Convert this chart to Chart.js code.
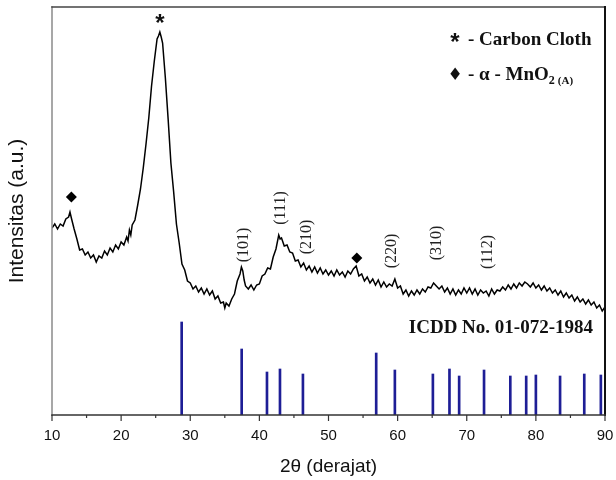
<!DOCTYPE html>
<html>
<head>
<meta charset="utf-8">
<script src="https://cdn.jsdelivr.net/npm/chart.js@4/dist/chart.umd.min.js"></script>
<style>
  html, body { margin: 0; padding: 0; background: #fff; }
  #wrap { width: 616px; height: 480px; }
</style>
</head>
<body>
<div id="wrap"><canvas id="c" width="616" height="480"></canvas></div>
<script>
// XRD scan of the MnO2 / carbon cloth electrode (2θ in degrees, intensity in a.u.)
const twoTheta = [
  10.0, 10.4, 10.8, 11.2, 11.6, 12.0, 12.4, 12.6, 12.8, 13.2, 13.6, 14.0, 14.4, 14.8, 15.2, 15.6,
  16.0, 16.4, 16.8, 17.2, 17.6, 18.0, 18.4, 18.8, 19.2, 19.6, 20.0, 20.4, 20.8, 21.0, 21.2, 21.4,
  21.6, 22.0, 22.4, 22.8, 23.2, 23.6, 24.0, 24.4, 24.8, 25.2, 25.4, 25.6, 25.8, 26.0, 26.4, 26.8,
  27.2, 27.6, 28.0, 28.4, 28.8, 29.2, 29.6, 30.0, 30.4, 30.8, 31.2, 31.6, 32.0, 32.4, 32.8, 33.2,
  33.6, 34.0, 34.4, 34.8, 35.0, 35.2, 35.6, 36.0, 36.4, 36.8, 37.2, 37.4, 37.6, 37.8, 38.0, 38.4,
  38.8, 39.2, 39.6, 40.0, 40.4, 40.8, 41.2, 41.6, 42.0, 42.4, 42.8, 43.0, 43.2, 43.6, 44.0, 44.4,
  44.8, 45.2, 45.6, 46.0, 46.4, 46.8, 47.2, 47.6, 48.0, 48.4, 48.8, 49.2, 49.6, 50.0, 50.4, 50.8,
  51.2, 51.6, 52.0, 52.4, 52.8, 53.2, 53.6, 54.0, 54.4, 54.8, 55.2, 55.6, 56.0, 56.4, 56.8, 57.2,
  57.6, 58.0, 58.4, 58.8, 59.2, 59.6, 60.0, 60.4, 60.8, 61.2, 61.6, 62.0, 62.4, 62.8, 63.2, 63.6,
  64.0, 64.4, 64.8, 65.2, 65.6, 66.0, 66.4, 66.8, 67.2, 67.6, 68.0, 68.4, 68.8, 69.2, 69.6, 70.0,
  70.4, 70.8, 71.2, 71.6, 72.0, 72.4, 72.8, 73.2, 73.6, 74.0, 74.4, 74.8, 75.2, 75.6, 76.0, 76.4,
  76.8, 77.2, 77.6, 78.0, 78.4, 78.8, 79.2, 79.6, 80.0, 80.4, 80.8, 81.2, 81.6, 82.0, 82.4, 82.8,
  83.2, 83.6, 84.0, 84.4, 84.8, 85.2, 85.6, 86.0, 86.4, 86.8, 87.2, 87.6, 88.0, 88.4, 88.8, 89.2,
  89.6, 90.0
];
const intensity = [
  187, 191, 186, 191, 189, 196, 198, 203, 197, 186, 176, 165, 166, 160, 163, 157,
  160, 153, 159, 157, 164, 160, 167, 163, 170, 166, 173, 170, 178, 174, 185, 180,
  190, 195, 210, 226, 247, 271, 297, 329, 354, 376, 379, 383, 378, 372, 337, 296,
  252, 223, 191, 172, 151, 145, 134, 132, 126, 129, 123, 127, 121, 126, 120, 124,
  116, 119, 112, 113, 107, 112, 109, 116, 121, 134, 141, 148, 144, 135, 129, 126,
  130, 125, 130, 131, 139, 141, 147, 146, 158, 166, 180, 176, 177, 169, 170, 163,
  162, 154, 155, 148, 152, 145, 149, 143, 148, 142, 147, 141, 145, 140, 144, 139,
  145, 140, 143, 138, 144, 141, 146, 149, 139, 141, 134, 138, 132, 136, 130, 135,
  128, 133, 128, 131, 129, 136, 127, 129, 121, 125, 119, 124, 120, 125, 121, 126,
  123, 128, 127, 132, 129, 126, 129, 123, 127, 121, 126, 120, 125, 121, 127, 122,
  127, 121, 126, 120, 125, 122, 124, 119, 126, 121, 125, 124, 128, 125, 130, 126,
  131, 127, 132, 129, 133, 131, 128, 132, 127, 130, 125, 129, 124, 127, 122, 125,
  120, 124, 118, 122, 117, 120, 114, 118, 113, 116, 111, 115, 110, 113, 107, 110,
  104, 108
];

// Reference pattern, ICDD No. 01-072-1984
const icddPos = [28.76, 37.44, 41.1, 42.98, 46.3, 56.9, 59.6, 65.1, 67.5, 68.9, 72.5, 76.3, 78.6, 80.0, 83.5, 87.0, 89.4];
const icddInt = [93, 66, 43, 46, 41, 62, 45, 41, 46, 39, 45, 39, 39, 40, 39, 41, 40];

// α-MnO2 reflections marked with a diamond
const mno2Pos = [12.8, 54.1];
const mno2Int = [218, 157];

// Carbon cloth (002) reflection, marked with an asterisk
const carbonPos = [25.6];
const carbonInt = [395];

// Miller indices written along the scan
const hklLabels = ['(101)', '(111)', '(210)', '(220)', '(310)', '(112)'];
const hklPos = [37.78, 43.13, 46.89, 59.19, 65.7, 73.07];
const hklInt = [170, 207, 178, 164, 172, 163];

const xTickValues = [10, 20, 30, 40, 50, 60, 70, 80, 90];

const SERIF = '"Liberation Serif", "Times New Roman", serif';
const SANS = '"Liberation Sans", Arial, sans-serif';

const scanPoints = twoTheta.map((t, i) => ({ x: t, y: intensity[i] }));
const icddPoints = icddPos.map((t, i) => ({ x: t, y: icddInt[i] }));
const mno2Points = mno2Pos.map((t, i) => ({ x: t, y: mno2Int[i] }));

// Frame, tick marks and the text annotations
const decorations = {
  id: 'decorations',
  afterDatasetsDraw(chart) {
    const { ctx, chartArea: a, scales: { x, y } } = chart;
    ctx.save();

    // frame
    ctx.lineCap = 'square';
    ctx.strokeStyle = '#8a8a8a'; ctx.lineWidth = 1.5;
    ctx.beginPath(); ctx.moveTo(a.left, a.top); ctx.lineTo(a.left, a.bottom); ctx.stroke();
    ctx.strokeStyle = '#444'; ctx.lineWidth = 1.5;
    ctx.beginPath(); ctx.moveTo(a.left, a.top); ctx.lineTo(a.right, a.top); ctx.stroke();
    ctx.strokeStyle = '#111'; ctx.lineWidth = 2;
    ctx.beginPath(); ctx.moveTo(a.right, a.top); ctx.lineTo(a.right, a.bottom); ctx.stroke();
    ctx.strokeStyle = '#333'; ctx.lineWidth = 1.5;
    ctx.beginPath(); ctx.moveTo(a.left, a.bottom); ctx.lineTo(a.right, a.bottom); ctx.stroke();

    // tick marks below the x axis (major every 10°, minor every 5°)
    ctx.strokeStyle = '#333'; ctx.lineWidth = 1.2; ctx.lineCap = 'butt';
    x.ticks.forEach(t => {
      const px = x.getPixelForValue(t.value);
      const len = t.value % 10 === 0 ? 6 : 3;
      ctx.beginPath(); ctx.moveTo(px, a.bottom); ctx.lineTo(px, a.bottom + len); ctx.stroke();
    });

    ctx.fillStyle = '#111';

    // asterisk over the carbon cloth peak
    ctx.font = 'bold 24px ' + SANS;
    ctx.textAlign = 'center'; ctx.textBaseline = 'middle';
    carbonPos.forEach((t, i) => {
      ctx.fillText('*', x.getPixelForValue(t), y.getPixelForValue(carbonInt[i]) + 4);
    });

    // Miller indices, rotated
    ctx.font = '16px ' + SERIF;
    ctx.fillStyle = '#222';
    hklLabels.forEach((lab, i) => {
      ctx.save();
      ctx.translate(x.getPixelForValue(hklPos[i]), y.getPixelForValue(hklInt[i]));
      ctx.rotate(-Math.PI / 2);
      ctx.textAlign = 'center'; ctx.textBaseline = 'middle';
      ctx.fillText(lab, 0, 0);
      ctx.restore();
    });

    // key
    ctx.fillStyle = '#111';
    const kx = a.right - 150;
    ctx.textAlign = 'center'; ctx.textBaseline = 'alphabetic';
    ctx.font = 'bold 24px ' + SANS;
    ctx.fillText('*', kx, 50);
    ctx.font = '17px "DejaVu Sans", sans-serif';
    ctx.fillText('\u2666', kx, 80);
    ctx.textAlign = 'left';
    ctx.font = 'bold 19px ' + SERIF;
    ctx.fillText('- Carbon Cloth', kx + 13, 45);
    let tx = kx + 13;
    ctx.fillText('- \u03b1 - MnO', tx, 80);
    tx += ctx.measureText('- \u03b1 - MnO').width;
    ctx.font = 'bold 12px ' + SERIF;
    ctx.fillText('2', tx, 84);
    tx += ctx.measureText('2').width + 3;
    ctx.font = 'bold 11px ' + SERIF;
    ctx.fillText('(A)', tx, 84);

    // reference card label
    ctx.font = 'bold 19px ' + SERIF;
    ctx.textAlign = 'right';
    ctx.fillText('ICDD No. 01-072-1984', a.right - 12, 333);

    ctx.restore();
  }
};

new Chart(document.getElementById('c'), {
  data: {
    datasets: [
      {
        type: 'line',
        label: 'MnO2 / carbon cloth',
        data: scanPoints,
        borderColor: '#000',
        borderWidth: 1.5,
        pointRadius: 0,
        tension: 0,
        fill: false,
        order: 2
      },
      {
        type: 'bar',
        label: 'ICDD 01-072-1984',
        data: icddPoints,
        backgroundColor: '#1e1e96',
        borderWidth: 0,
        barThickness: 2,
        grouped: false,
        order: 3
      },
      {
        type: 'scatter',
        label: 'α-MnO2',
        data: mno2Points,
        pointStyle: 'rectRot',
        pointRadius: 5.5,
        backgroundColor: '#000',
        borderColor: '#000',
        borderWidth: 0,
        order: 1
      }
    ]
  },
  options: {
    responsive: false,
    animation: false,
    devicePixelRatio: 1,
    layout: { padding: { top: 7, right: 11, left: 0, bottom: 0 } },
    plugins: { legend: { display: false }, tooltip: { enabled: false } },
    scales: {
      x: {
        type: 'linear',
        offset: false,
        min: 10, max: 90,
        grid: { display: false, offset: false, drawTicks: false, tickLength: 0 },
        border: { display: false },
        ticks: {
          stepSize: 5,
          autoSkip: false,
          maxRotation: 0,
          padding: 12,
          color: '#111',
          font: { family: SANS, size: 15 },
          callback: v => (xTickValues.includes(v) ? String(v) : '')
        },
        title: {
          display: true,
          text: '2θ (derajat)',
          color: '#111',
          font: { family: SANS, size: 19 },
          padding: { top: 0, bottom: 2 }
        },
        afterFit: s => { s.height = 65; s.paddingLeft = 0; s.paddingRight = 0; }
      },
      y: {
        min: 0, max: 408,
        grid: { display: false },
        border: { display: false },
        ticks: { display: false },
        title: {
          display: true,
          text: 'Intensitas (a.u.)',
          color: '#111',
          font: { family: SANS, size: 21 },
          padding: { top: 5, bottom: 0 }
        },
        afterFit: s => { s.width = 52; s.paddingTop = 0; s.paddingBottom = 0; }
      }
    }
  },
  plugins: [decorations]
});
</script>
</body>
</html>
